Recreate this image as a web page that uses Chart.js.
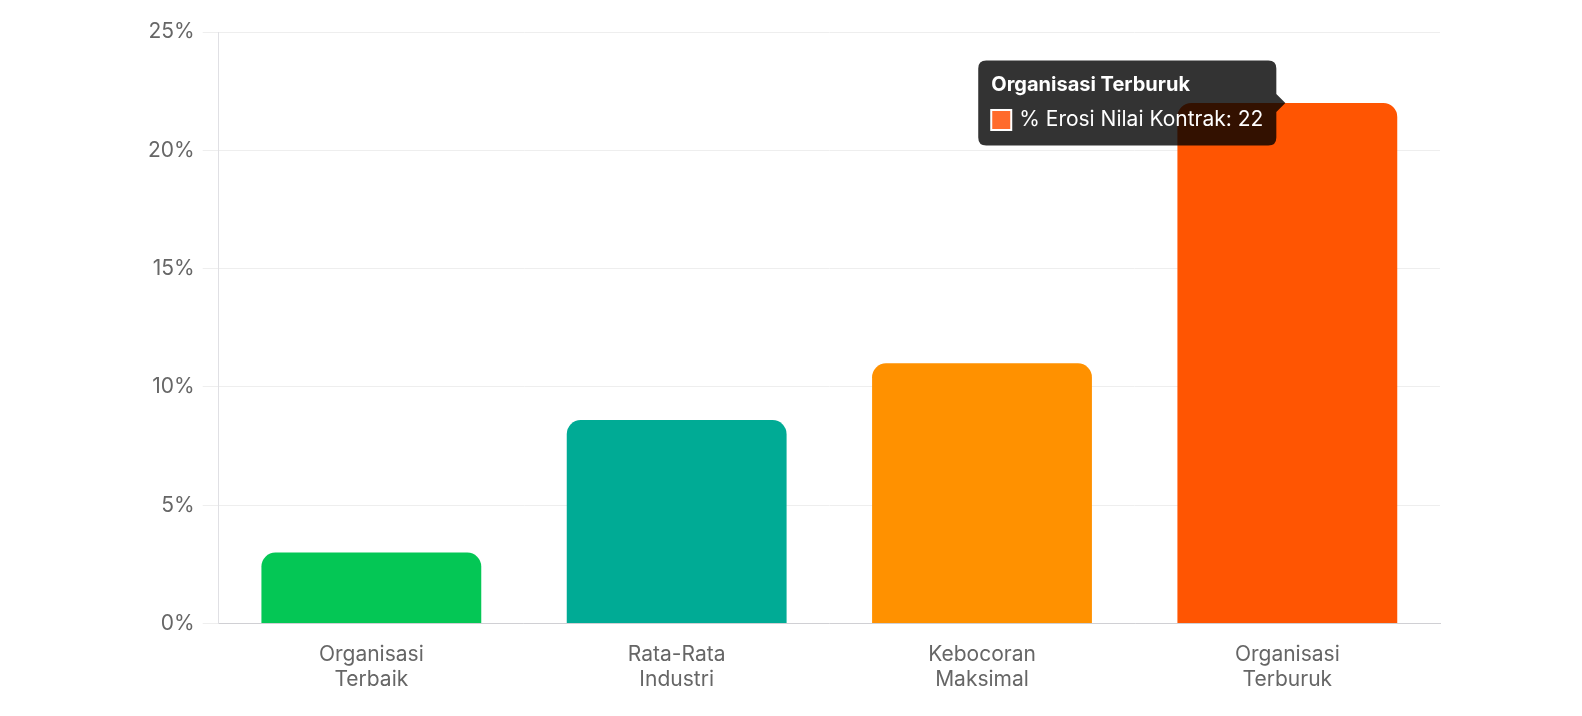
<!DOCTYPE html>
<html><head><meta charset="utf-8">
<script src="https://cdn.jsdelivr.net/npm/chart.js@4"></script>
<style>html,body{margin:0;padding:0;background:#fff}#w{width:1582px;height:716px}</style>
</head><body><div id="w"><canvas id="c"></canvas></div>
<script>
const categories = [["Organisasi","Terbaik"],["Rata-Rata","Industri"],["Kebocoran","Maksimal"],["Organisasi","Terburuk"]];
const values = [3, 8.6, 11, 22];
const barColors = ["#04C755","#00AB95","#FF9100","#FF5502"];
const seriesLabel = "% Erosi Nilai Kontrak";
const yTicks = [0,5,10,15,20,25];

Chart.defaults.font.family = "Inter, 'Noto Sans', sans-serif";
const chart = new Chart(document.getElementById('c'), {
  type: 'bar',
  data: { labels: categories, datasets: [{ label: seriesLabel, data: values, backgroundColor: barColors, hoverBackgroundColor: barColors, borderRadius: 14, borderSkipped: 'bottom' }] },
  options: {
    responsive: true, maintainAspectRatio: false, animation: false,
    layout: { padding: { left: 140, right: 142, top: 32, bottom: 14 } },
    plugins: {
      legend: { display: false },
      tooltip: {
        backgroundColor: 'rgba(0,0,0,0.8)',
        titleFont: { size: 20, weight: 'bold' }, bodyFont: { size: 21 },
        titleMarginBottom: 10, padding: 13, cornerRadius: 8, caretSize: 9, boxPadding: 6,
        boxWidth: 20, boxHeight: 20,
        callbacks: {
          title: items => items[0].label.replace(/,/g,' '),
          labelColor: () => ({ backgroundColor: '#FF6B2C', borderColor: '#ffffff', borderWidth: 2 })
        }
      }
    },
    scales: {
      x: { grid: { display: false }, border: { color: '#d0d0d4' }, ticks: { color: '#666', font: { size: 21 }, padding: 10 } },
      y: { min: 0, max: 25, afterBuildTicks: ax => { ax.ticks = yTicks.map(v => ({ value: v })); },
           grid: { color: '#eeeeee', tickLength: 16 }, border: { color: '#e0e0e4' },
           ticks: { color: '#666', font: { size: 21 }, padding: 8, callback: v => v + '%' } }
    }
  }
});
chart.tooltip.setActiveElements([{ datasetIndex: 0, index: 3 }], { x: 1277, y: 103 });
chart.update();
</script></body></html>
